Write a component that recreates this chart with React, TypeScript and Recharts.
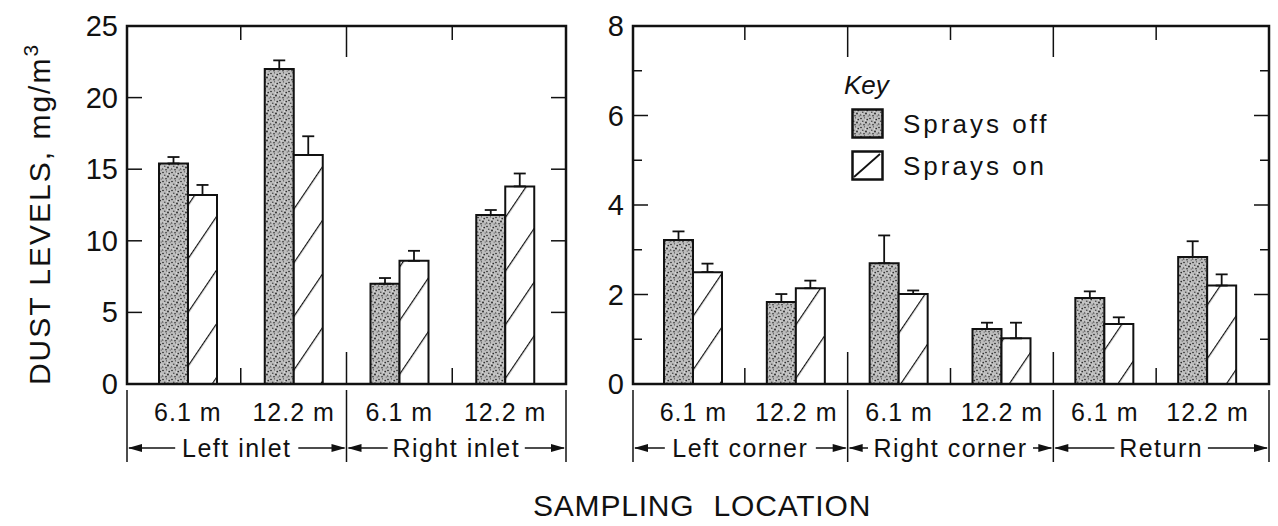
import React from 'react';
import { BarChart, Bar, XAxis, YAxis, ErrorBar, Legend } from 'recharts';

// series + category data
const seriesNames = ['Sprays off', 'Sprays on'];

const leftDistances = ['6.1 m', '12.2 m', '6.1 m', '12.2 m'];
const leftGroups = ['Left inlet', 'Right inlet'];
const leftOff = [15.4, 22.0, 7.0, 11.8];
const leftOffErr = [0.45, 0.6, 0.4, 0.35];
const leftOn = [13.2, 16.0, 8.6, 13.8];
const leftOnErr = [0.7, 1.3, 0.7, 0.9];
const leftTicks = [0, 5, 10, 15, 20, 25];
const leftLabelled = [0, 5, 10, 15, 20, 25];

const rightDistances = ['6.1 m', '12.2 m', '6.1 m', '12.2 m', '6.1 m', '12.2 m'];
const rightGroups = ['Left corner', 'Right corner', 'Return'];
const rightOff = [3.22, 1.83, 2.7, 1.23, 1.92, 2.84];
const rightOffErr = [0.19, 0.18, 0.62, 0.14, 0.15, 0.35];
const rightOn = [2.5, 2.14, 2.01, 1.02, 1.34, 2.2];
const rightOnErr = [0.19, 0.17, 0.08, 0.35, 0.15, 0.25];
const rightTicks = [0, 1, 2, 3, 4, 5, 6, 7, 8];
const rightLabelled = [0, 2, 4, 6, 8];

const FONT = '"Liberation Sans", Arial, sans-serif';
const INK = '#111';
const H = 526;
const TOP = 26;
const BOTTOM = 384;
const LABEL_FS = 25;
const LABEL_LS = 1.5;

// rough text width for Liberation Sans, used to open a gap in the arrow line
const charW = (c) => {
  if ('il'.includes(c)) return 0.222;
  if ('ftjI '.includes(c)) return 0.278;
  if (c === 'r') return 0.333;
  if ('mM'.includes(c)) return 0.833;
  if (/[A-Z]/.test(c)) return 0.7;
  return 0.556;
};
const textWidth = (s, fs, ls) => s.split('').reduce((a, c) => a + charW(c) * fs + ls, 0);

const buildRows = (distances, groups, off, offErr, on, onErr) =>
  distances.map((d, i) => ({
    key: `${groups[Math.floor(i / 2)]}|${d}|${i}`,
    off: off[i],
    offErr: [0, offErr[i]],
    on: on[i],
    onErr: [0, onErr[i]],
  }));

const KeyBox = () => (
  <div style={{ fontFamily: FONT, color: INK }}>
    <div style={{ fontStyle: 'italic', fontSize: 26, marginLeft: -7, marginBottom: 2 }}>Key</div>
    {seriesNames.map((n, i) => (
      <div key={n} style={{ display: 'flex', alignItems: 'center', height: 42 }}>
        <svg width={34} height={32}>
          <rect x={1.5} y={1.5} width={30} height={28} fill={i === 0 ? 'url(#stipple)' : '#fff'} stroke={INK} strokeWidth={2.5} />
          {i === 1 && <line x1={3} y1={27} x2={29} y2={4} stroke={INK} strokeWidth={1.8} />}
        </svg>
        <span style={{ marginLeft: 18, fontSize: 26, letterSpacing: 3 }}>{n}</span>
      </div>
    ))}
  </div>
);

function Panel({ left, width, yWidth, right, pad, distances, groups, off, offErr, on, onErr, ticks, labelled, max, withKey }) {
  const plotL = yWidth;
  const plotR = width - right;
  const plotW = plotR - plotL;
  const n = distances.length;
  const band = (plotW - pad[0] - pad[1]) / n;
  const data = buildRows(distances, groups, off, offErr, on, onErr);

  const YTick = ({ y, payload }) => {
    const v = payload.value;
    const major = labelled.includes(v);
    const len = major ? 15 : 9;
    return (
      <g>
        {major && (
          <text x={plotL - 9} y={y} textAnchor="end" dominantBaseline="central" fontSize={29} fontFamily={FONT} fill={INK}>
            {v}
          </text>
        )}
        {v !== 0 && v !== max && (
          <>
            <line x1={plotL} x2={plotL + len} y1={y} y2={y} stroke={INK} strokeWidth={1.5} />
            <line x1={plotR - len} x2={plotR} y1={y} y2={y} stroke={INK} strokeWidth={1.5} />
          </>
        )}
      </g>
    );
  };

  const XTick = ({ x, index }) => {
    const xb = x - band / 2;
    const isGroupStart = index % 2 === 0;
    const rowY = BOTTOM + 64;
    const sepL = index === 0 ? plotL : xb;
    const sepR = index + 2 >= n ? plotR : xb + 2 * band;
    const label = isGroupStart ? groups[index / 2] : '';
    const cx = (sepL + sepR) / 2;
    const half = textWidth(label, LABEL_FS, LABEL_LS) / 2 + 5;
    return (
      <g>
        {index === 0 && (
          <rect x={plotL} y={TOP} width={plotW} height={BOTTOM - TOP} fill="none" stroke={INK} strokeWidth={2.5} />
        )}
        {index > 0 && (
          <>
            <line x1={xb} x2={xb} y1={BOTTOM} y2={BOTTOM - (isGroupStart ? 32 : 16)} stroke={INK} strokeWidth={1.5} />
            <line x1={xb} x2={xb} y1={TOP} y2={TOP + (isGroupStart ? 31 : 14)} stroke={INK} strokeWidth={1.5} />
          </>
        )}
        <text x={x} y={BOTTOM + 28} textAnchor="middle" dominantBaseline="central" fontSize={LABEL_FS} fontFamily={FONT} fill={INK} letterSpacing={1}>
          {distances[index]}
        </text>
        {isGroupStart && (
          <>
            <line x1={sepL} x2={sepL} y1={BOTTOM + 6} y2={BOTTOM + 78} stroke={INK} strokeWidth={1.5} />
            <line x1={sepL + 2} x2={cx - half} y1={rowY} y2={rowY} stroke={INK} strokeWidth={1.5} />
            <line x1={cx + half} x2={sepR - 2} y1={rowY} y2={rowY} stroke={INK} strokeWidth={1.5} />
            <polygon points={`${sepL + 1},${rowY} ${sepL + 15},${rowY - 4} ${sepL + 15},${rowY + 4}`} fill={INK} />
            <polygon points={`${sepR - 1},${rowY} ${sepR - 15},${rowY - 4} ${sepR - 15},${rowY + 4}`} fill={INK} />
            <text
              x={cx}
              y={rowY}
              textAnchor="middle"
              dominantBaseline="central"
              fontSize={LABEL_FS}
              fontFamily={FONT}
              fill={INK}
              letterSpacing={LABEL_LS}
            >
              {label}
            </text>
          </>
        )}
        {index === n - 1 && (
          <line x1={plotR} x2={plotR} y1={BOTTOM + 6} y2={BOTTOM + 78} stroke={INK} strokeWidth={1.5} />
        )}
      </g>
    );
  };

  return (
    <div style={{ position: 'absolute', left, top: 0 }}>
      <BarChart
        width={width}
        height={H}
        data={data}
        margin={{ top: TOP, right, bottom: 0, left: 0 }}
        barGap={0}
      >
        <XAxis
          dataKey="key"
          height={H - BOTTOM}
          axisLine={false}
          tickLine={false}
          interval={0}
          padding={{ left: pad[0], right: pad[1] }}
          tick={<XTick />}
        />
        <YAxis
          type="number"
          domain={[0, max]}
          ticks={ticks}
          interval={0}
          width={yWidth}
          axisLine={false}
          tickLine={false}
          tick={<YTick />}
        />
        {withKey && (
          <Legend
            layout="vertical"
            align="center"
            verticalAlign="middle"
            content={<KeyBox />}
            wrapperStyle={{ left: 851 - left, top: 70, width: 260, height: 120 }}
          />
        )}
        <Bar dataKey="off" name={seriesNames[0]} fill="url(#stipple)" stroke={INK} strokeWidth={2} barSize={29} isAnimationActive={false}>
          <ErrorBar dataKey="offErr" width={6} stroke={INK} strokeWidth={1.8} direction="y" />
        </Bar>
        <Bar dataKey="on" name={seriesNames[1]} fill="url(#hatch)" stroke={INK} strokeWidth={2} barSize={29} isAnimationActive={false}>
          <ErrorBar dataKey="onErr" width={6} stroke={INK} strokeWidth={1.8} direction="y" />
        </Bar>
      </BarChart>
    </div>
  );
}

export default function App() {
  return (
    <div style={{ position: 'absolute', left: 0, top: 0, width: 1278, height: H, background: '#fff', overflow: 'hidden' }}>
      <svg width={0} height={0} style={{ position: 'absolute' }}>
        <defs>
          <pattern id="stipple" patternUnits="userSpaceOnUse" width={9} height={9}>
            <rect width={9} height={9} fill="#bdbdbd" />
            <circle cx={1} cy={1.5} r={0.8} fill="#222" />
            <circle cx={4.5} cy={0.8} r={0.6} fill="#444" />
            <circle cx={7.2} cy={2.6} r={0.8} fill="#222" />
            <circle cx={2.8} cy={4.2} r={0.7} fill="#333" />
            <circle cx={6} cy={5.5} r={0.9} fill="#222" />
            <circle cx={0.8} cy={7} r={0.7} fill="#333" />
            <circle cx={4} cy={7.8} r={0.8} fill="#222" />
            <circle cx={8.2} cy={8} r={0.6} fill="#444" />
            <circle cx={5.5} cy={3} r={0.6} fill="#f4f4f4" />
            <circle cx={2} cy={6} r={0.6} fill="#f4f4f4" />
            <circle cx={8} cy={5} r={0.5} fill="#eee" />
          </pattern>
          <pattern id="hatch" patternUnits="userSpaceOnUse" width={30} height={30} patternTransform="rotate(34)">
            <rect width={30} height={30} fill="#fff" />
            <line x1={0} y1={0} x2={0} y2={30} stroke={INK} strokeWidth={2.4} />
          </pattern>
        </defs>
      </svg>

      <Panel
        left={0}
        width={580}
        yWidth={127}
        right={14}
        pad={[8, 8]}
        distances={leftDistances}
        groups={leftGroups}
        off={leftOff}
        offErr={leftOffErr}
        on={leftOn}
        onErr={leftOnErr}
        ticks={leftTicks}
        labelled={leftLabelled}
        max={25}
        withKey={false}
      />
      <Panel
        left={580}
        width={698}
        yWidth={53}
        right={9}
        pad={[9, 10]}
        distances={rightDistances}
        groups={rightGroups}
        off={rightOff}
        offErr={rightOffErr}
        on={rightOn}
        onErr={rightOnErr}
        ticks={rightTicks}
        labelled={rightLabelled}
        max={8}
        withKey
      />

      <svg width={1278} height={H} style={{ position: 'absolute', left: 0, top: 0, pointerEvents: 'none' }}>
        <text
          transform="translate(50, 214) rotate(-90)"
          textAnchor="middle"
          fontSize={30}
          fontFamily={FONT}
          fill={INK}
          letterSpacing={2}
        >
          DUST LEVELS, mg/m<tspan dy={-12} fontSize={21}>3</tspan>
        </text>
        <text x={533} y={516} fontSize={30} fontFamily={FONT} fill={INK} letterSpacing={0.8} wordSpacing={10}>
          SAMPLING LOCATION
        </text>
      </svg>
    </div>
  );
}
